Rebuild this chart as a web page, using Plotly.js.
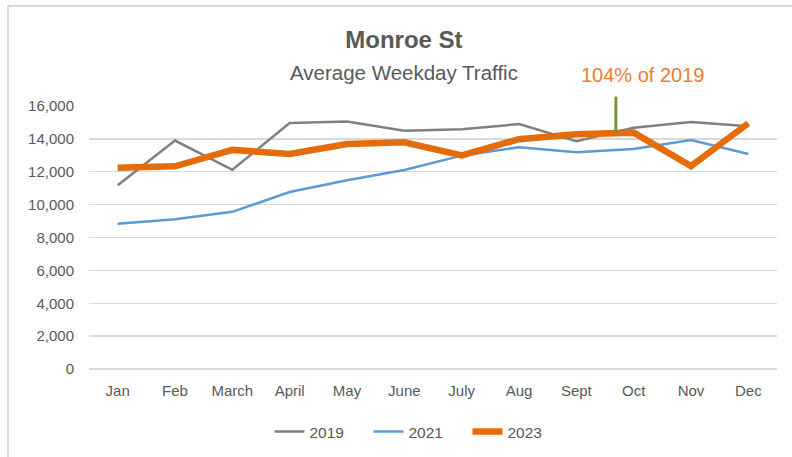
<!DOCTYPE html>
<html>
<head>
<meta charset="utf-8">
<script src="https://cdn.plot.ly/plotly-3.0.1.min.js"></script>
<style>
  html, body { margin: 0; padding: 0; background: #ffffff; overflow: hidden; }
  #wrap { position: relative; width: 792px; height: 457px; }
  #chart { position: absolute; left: 0; top: 0; width: 792px; height: 457px; }
  #frame { position: absolute; left: 7px; top: 5px; width: 820px; height: 500px;
           border-top: 2px solid #d9d9d9; border-left: 2px solid #d9d9d9; pointer-events: none; }
</style>
</head>
<body>
<div id="wrap">
  <div id="chart"></div>
  <div id="frame"></div>
</div>
<script>
const months = ['Jan','Feb','March','April','May','June','July','Aug','Sept','Oct','Nov','Dec'];
const traffic2019 = [11180, 13900, 12120, 14960, 15050, 14500, 14590, 14900, 13860, 14680, 15020, 14770];
const traffic2021 = [8830, 9110, 9560, 10770, 11480, 12110, 12980, 13490, 13190, 13390, 13930, 13080];
const traffic2023 = [12250, 12330, 13330, 13080, 13690, 13790, 13000, 13980, 14280, 14380, 12350, 14950];
const seriesNames = ['2019', '2021', '2023'];
const chartTitle = 'Monroe St';
const chartSubtitle = 'Average Weekday Traffic';
const calloutText = '104% of 2019';

const FONT = '"Liberation Sans", Arial, sans-serif';
const TXT = '#595959';

const traces = [
  { x: months, y: traffic2019, name: seriesNames[0], type: 'scatter', mode: 'lines',
    line: { color: '#808080', width: 2.5 } },
  { x: months, y: traffic2021, name: seriesNames[1], type: 'scatter', mode: 'lines',
    line: { color: '#5B9BD5', width: 2.5 } },
  { x: months, y: traffic2023, name: seriesNames[2], type: 'scatter', mode: 'lines',
    line: { color: '#E46C0A', width: 6.5 } }
];

const layout = {
  width: 792, height: 457,
  margin: { l: 89, r: 15, t: 106, b: 88, autoexpand: false },
  paper_bgcolor: '#ffffff', plot_bgcolor: '#ffffff',
  font: { family: FONT, color: TXT, size: 15 },
  showlegend: true,
  hovermode: false,
  title: {
    text: '<b>' + chartTitle + '</b>',
    xref: 'container', x: 0.51, xanchor: 'center',
    yref: 'container', y: 1 - 40 / 457, yanchor: 'middle',
    font: { family: FONT, size: 24, color: TXT }
  },
  xaxis: {
    type: 'category',
    range: [-0.5, 11.5],
    showgrid: false, zeroline: false, showline: false,
    ticks: '', ticklabelstandoff: 11,
    tickfont: { family: FONT, size: 15, color: TXT },
    fixedrange: true
  },
  yaxis: {
    range: [0, 16000],
    dtick: 2000, tick0: 0,
    tickformat: ',d',
    showgrid: true, gridcolor: '#d9d9d9', gridwidth: 1.3,
    zeroline: true, zerolinecolor: '#d9d9d9', zerolinewidth: 1.3,
    showline: false, ticks: '', ticklabelstandoff: 14,
    tickfont: { family: FONT, size: 15, color: TXT },
    fixedrange: true
  },
  legend: {
    orientation: 'h',
    xref: 'container', x: 418 / 792, xanchor: 'center',
    yref: 'container', y: 1 - 432 / 457, yanchor: 'middle',
    font: { family: FONT, size: 15.5, color: TXT },
    itemwidth: 30,
    entrywidth: 54
  },
  shapes: [
    { type: 'line', xref: 'x', yref: 'paper', x0: 8.69, x1: 8.69,
      y0: (369.2 - 133) / 263.2, y1: (369.2 - 96.7) / 263.2,
      line: { color: '#77933C', width: 3 } }
  ],
  annotations: [
    { text: chartSubtitle, xref: 'paper', yref: 'paper',
      x: (404 - 89) / 688, y: (369.2 - 72) / 263.2,
      xanchor: 'center', yanchor: 'middle', showarrow: false,
      font: { family: FONT, size: 20.5, color: TXT } },
    { text: calloutText, xref: 'x', yref: 'paper',
      x: 9.16, y: (369.2 - 75) / 263.2,
      xanchor: 'center', yanchor: 'middle', showarrow: false,
      font: { family: FONT, size: 20, color: '#ED7D31' } }
  ]
};

Plotly.newPlot('chart', traces, layout, { displayModeBar: false, staticPlot: true });
</script>
</body>
</html>
